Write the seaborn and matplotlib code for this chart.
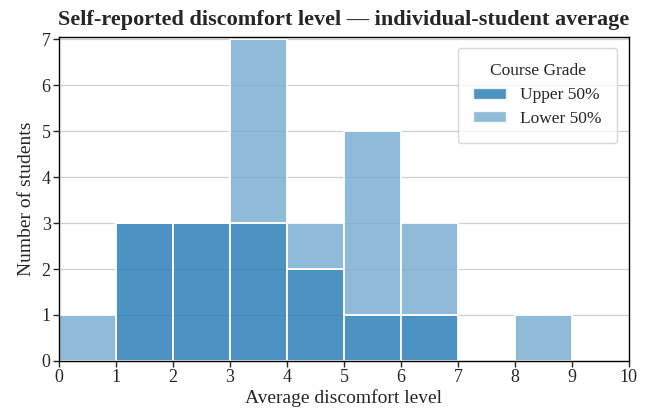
import matplotlib
matplotlib.use("Agg")
import matplotlib.pyplot as plt
from matplotlib.patches import Patch
import seaborn as sns
import pandas as pd

# bin centres (bins of width 1 from 0 to 10) and student counts per group
bin_centres = [0.5, 1.5, 2.5, 3.5, 4.5, 5.5, 6.5, 7.5, 8.5, 9.5]
upper_counts = [0, 3, 3, 3, 2, 1, 1, 0, 0, 0]
lower_counts = [1, 0, 0, 4, 1, 4, 2, 0, 1, 0]
groups = ["Upper 50%", "Lower 50%"]
colors = {"Upper 50%": "#1f77b4", "Lower 50%": "#73aad0"}

df = pd.DataFrame({
    "avg": bin_centres * 2,
    "count": upper_counts + lower_counts,
    "grade": [groups[0]] * len(bin_centres) + [groups[1]] * len(bin_centres),
})

sns.set_style("white")
plt.rcParams["font.family"] = ["Liberation Serif", "DejaVu Serif"]

fig, ax = plt.subplots(figsize=(6.51, 4.12), dpi=100)
sns.histplot(data=df, x="avg", weights="count", hue="grade",
             hue_order=[groups[1], groups[0]], multiple="stack",
             bins=list(range(0, 11)), palette=colors, alpha=0.8,
             edgecolor="white", linewidth=1.3, ax=ax, legend=False)

ax.set_xlim(0, 10)
ax.set_ylim(0, 7.05)
ax.set_xticks(range(0, 11))
ax.set_yticks(range(0, 8))
ax.yaxis.grid(True, color="#d0d0d0", linewidth=0.9)
ax.set_axisbelow(True)
for s in ax.spines.values():
    s.set_color("black")
    s.set_linewidth(1.0)
ax.tick_params(axis="both", direction="out", length=4, width=1, labelsize=13,
               left=True, bottom=True, pad=2)
ax.set_xlabel("Average discomfort level", fontsize=14, labelpad=2)
ax.set_ylabel("Number of students", fontsize=14, labelpad=5)
ax.set_title("Self-reported discomfort level \u2014 individual-student average",
             fontsize=16, fontweight="bold", pad=9)

handles = [Patch(facecolor=colors[g], alpha=0.8, edgecolor="white") for g in groups]
leg = ax.legend(handles, groups, title="Course Grade", loc="upper right",
                fontsize=12.5, title_fontsize=12.5, frameon=True,
                borderpad=0.9, labelspacing=0.45, handlelength=1.9,
                handleheight=0.6, handletextpad=0.8, bbox_to_anchor=(0.995, 0.994))
leg.get_frame().set_edgecolor("#cccccc")

fig.subplots_adjust(left=0.0906, right=0.966, top=0.91, bottom=0.124)
fig.savefig("out.png", dpi=100)
